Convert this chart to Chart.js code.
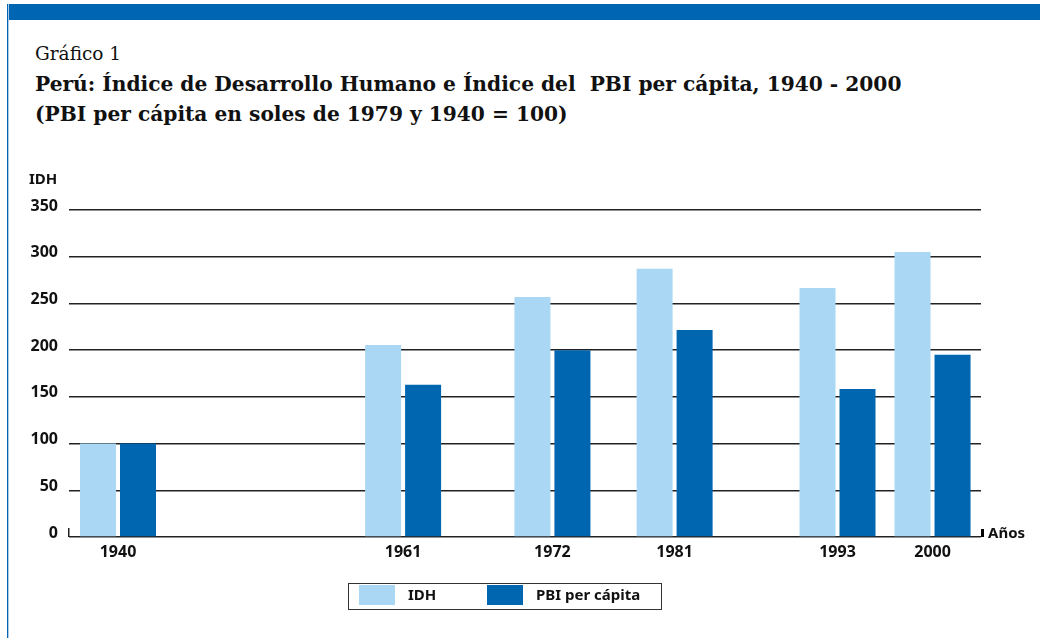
<!DOCTYPE html>
<html>
<head>
<meta charset="utf-8">
<script src="https://cdn.jsdelivr.net/npm/chart.js@4.4.0/dist/chart.umd.min.js"></script>
<style>
  body { margin: 0; width: 1040px; height: 638px; overflow: hidden; background: #fff; position: relative; }
  #band { position: absolute; left: 7px; top: 4px; right: 0; height: 16px; background: #0066b3; }
  #edge { position: absolute; left: 7px; top: 4px; bottom: 0; width: 1px; background: #0066b3; border-right: 1px solid #a9cbe8; }
  .head { position: absolute; left: 35px; font-family: "DejaVu Serif", serif; color: #111; white-space: pre; }
  #kicker { top: 43px; font-size: 18.5px; }
  #title { top: 72px; font-size: 20.2px; font-weight: bold; }
  #subtitle { top: 102px; font-size: 20.2px; font-weight: bold; }
  #chart { position: absolute; left: 0; top: 0; }
  #legend { position: absolute; left: 348px; top: 583px; width: 312px; height: 25px; border: 1px solid #333;
            font-family: "Noto Sans", sans-serif; font-weight: bold; font-size: 15px; color: #111; }
  .item { position: absolute; top: 1px; height: 20px; line-height: 20px; }
  .swatch { position: absolute; top: 0; width: 36px; height: 20px; }
  .label { position: absolute; top: -1px; white-space: nowrap; }
</style>
</head>
<body>
<div id="band"></div>
<div id="edge"></div>
<div class="head" id="kicker">Gráfico 1</div>
<div class="head" id="title">Perú: Índice de Desarrollo Humano e Índice del  PBI per cápita, 1940 - 2000</div>
<div class="head" id="subtitle">(PBI per cápita en soles de 1979 y 1940 = 100)</div>
<canvas id="chart" width="1040" height="638"></canvas>
<div id="legend"></div>

<script>
const years = [1940, 1961, 1972, 1981, 1993, 2000];
const idh = [100, 205.5, 257, 287, 266.5, 305];
const pbi = [100, 163, 200, 221.5, 158.5, 195];
const yTicks = [0, 50, 100, 150, 200, 250, 300, 350];
const seriesNames = ["IDH", "PBI per cápita"];
const seriesColors = ["#a9d7f4", "#0066b0"];

const tickFont = { family: "'Noto Sans', sans-serif", size: 16, weight: "bold" };

// small marks and the axis words that Chart.js has no option for
const axisExtras = {
  id: "axisExtras",
  afterDraw(chart) {
    const ctx = chart.ctx;
    const area = chart.chartArea;
    const base = chart.scales.y.getPixelForValue(0);
    ctx.save();
    ctx.fillStyle = "#222";
    ctx.fillRect(area.left - 1, base - 9, 1.5, 9);
    ctx.fillStyle = "#000";
    ctx.fillRect(area.right, base - 8, 3, 8);
    ctx.font = "bold 15px 'Noto Sans', sans-serif";
    ctx.textBaseline = "middle";
    ctx.fillStyle = "#111";
    ctx.textAlign = "left";
    ctx.fillText("Años", area.right + 7, base - 3);
    ctx.fillText("IDH", 29, 180);
    ctx.restore();
  }
};

const ctx = document.getElementById("chart").getContext("2d");
const chart = new Chart(ctx, {
  type: "bar",
  data: {
    datasets: [
      {
        label: seriesNames[0],
        data: years.map((yr, i) => ({ x: yr, y: idh[i] })),
        backgroundColor: seriesColors[0]
      },
      {
        label: seriesNames[1],
        data: years.map((yr, i) => ({ x: yr, y: pbi[i] })),
        backgroundColor: seriesColors[1]
      }
    ]
  },
  options: {
    responsive: false,
    animation: false,
    devicePixelRatio: 1,
    categoryPercentage: 0.842,
    barPercentage: 0.9,
    layout: { padding: { left: 0, right: 59, top: 210, bottom: 71 } },
    plugins: {
      legend: { display: false },
      tooltip: { enabled: false }
    },
    scales: {
      x: {
        type: "linear",
        offset: false,
        min: 1936.39,
        max: 2003.57,
        grid: { display: false },
        border: { display: false },
        afterBuildTicks: scale => { scale.ticks = years.map(v => ({ value: v })); },
        afterFit: scale => { scale.height = 30; },
        ticks: {
          autoSkip: false,
          maxRotation: 0,
          padding: -2,
          color: "#111",
          font: tickFont,
          callback: v => String(v)
        }
      },
      y: {
        min: 0,
        max: 350,
        afterBuildTicks: scale => { scale.ticks = yTicks.map(v => ({ value: v })); },
        afterFit: scale => { scale.width = 69; },
        border: { display: false },
        grid: { color: "#222", lineWidth: 1.5, drawTicks: false },
        ticks: {
          padding: 11,
          labelOffset: -4,
          color: "#111",
          font: tickFont
        }
      }
    }
  },
  plugins: [axisExtras]
});

// legend box, built from the same series arrays
const legend = document.getElementById("legend");
const itemLeft = [10, 138];
seriesNames.forEach((name, i) => {
  const item = document.createElement("div");
  item.className = "item";
  item.style.left = itemLeft[i] + "px";
  item.innerHTML = '<div class="swatch" style="background:' + seriesColors[i] + '"></div>' +
                   '<div class="label" style="left:49px">' + name + '</div>';
  legend.appendChild(item);
});
</script>
</body>
</html>
